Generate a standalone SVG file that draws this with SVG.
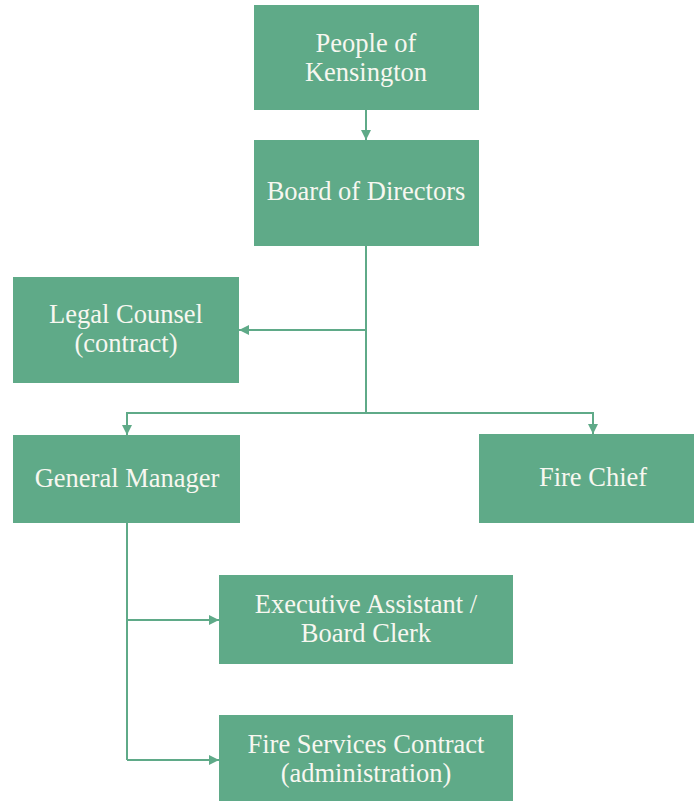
<svg xmlns="http://www.w3.org/2000/svg" width="694" height="801" viewBox="0 0 694 801">
<defs>
<style>
.box{fill:#5FAA88;}
.t{font-family:"Liberation Serif","Times New Roman",serif;font-size:26.5px;fill:#F7F7F0;text-anchor:middle;}
.c{fill:none;stroke:#5FAA88;stroke-width:2;}
</style>
<marker id="ah" viewBox="0 0 10 10" refX="10" refY="5" markerWidth="10" markerHeight="10" markerUnits="userSpaceOnUse" orient="auto">
<path d="M0,0 L10,5 L0,10 Z" fill="#5FAA88"/>
</marker>
</defs>
<rect width="694" height="801" fill="#FFFFFF"/>
<g id="connectors">
<path class="c" d="M366,110 V140" marker-end="url(#ah)"/>
<path class="c" d="M366,246 V413"/>
<path class="c" d="M366,330 H239" marker-end="url(#ah)"/>
<path class="c" d="M366,413 H127 V435" marker-end="url(#ah)"/>
<path class="c" d="M366,413 H593 V434" marker-end="url(#ah)"/>
<path class="c" d="M127,523 V760"/>
<path class="c" d="M127,620 H219" marker-end="url(#ah)"/>
<path class="c" d="M127,760 H219" marker-end="url(#ah)"/>
</g>
<g id="people">
<rect class="box" x="254" y="5" width="225" height="105"/>
<text class="t" x="366" y="52">People of</text>
<text class="t" x="366" y="81">Kensington</text>
</g>
<g id="board">
<rect class="box" x="254" y="140" width="225" height="106"/>
<text class="t" x="366" y="200">Board of Directors</text>
</g>
<g id="legal">
<rect class="box" x="13" y="277" width="226" height="106"/>
<text class="t" x="126" y="323">Legal Counsel</text>
<text class="t" x="126" y="352">(contract)</text>
</g>
<g id="gm">
<rect class="box" x="13" y="435" width="227" height="88"/>
<text class="t" x="127" y="487">General Manager</text>
</g>
<g id="chief">
<rect class="box" x="479" y="434" width="215" height="89"/>
<text class="t" x="593" y="486">Fire Chief</text>
</g>
<g id="exec">
<rect class="box" x="219" y="575" width="294" height="89"/>
<text class="t" x="366" y="613">Executive Assistant /</text>
<text class="t" x="366" y="642">Board Clerk</text>
</g>
<g id="fireservices">
<rect class="box" x="219" y="715" width="294" height="86"/>
<text class="t" x="366" y="753">Fire Services Contract</text>
<text class="t" x="366" y="782">(administration)</text>
</g>
</svg>
